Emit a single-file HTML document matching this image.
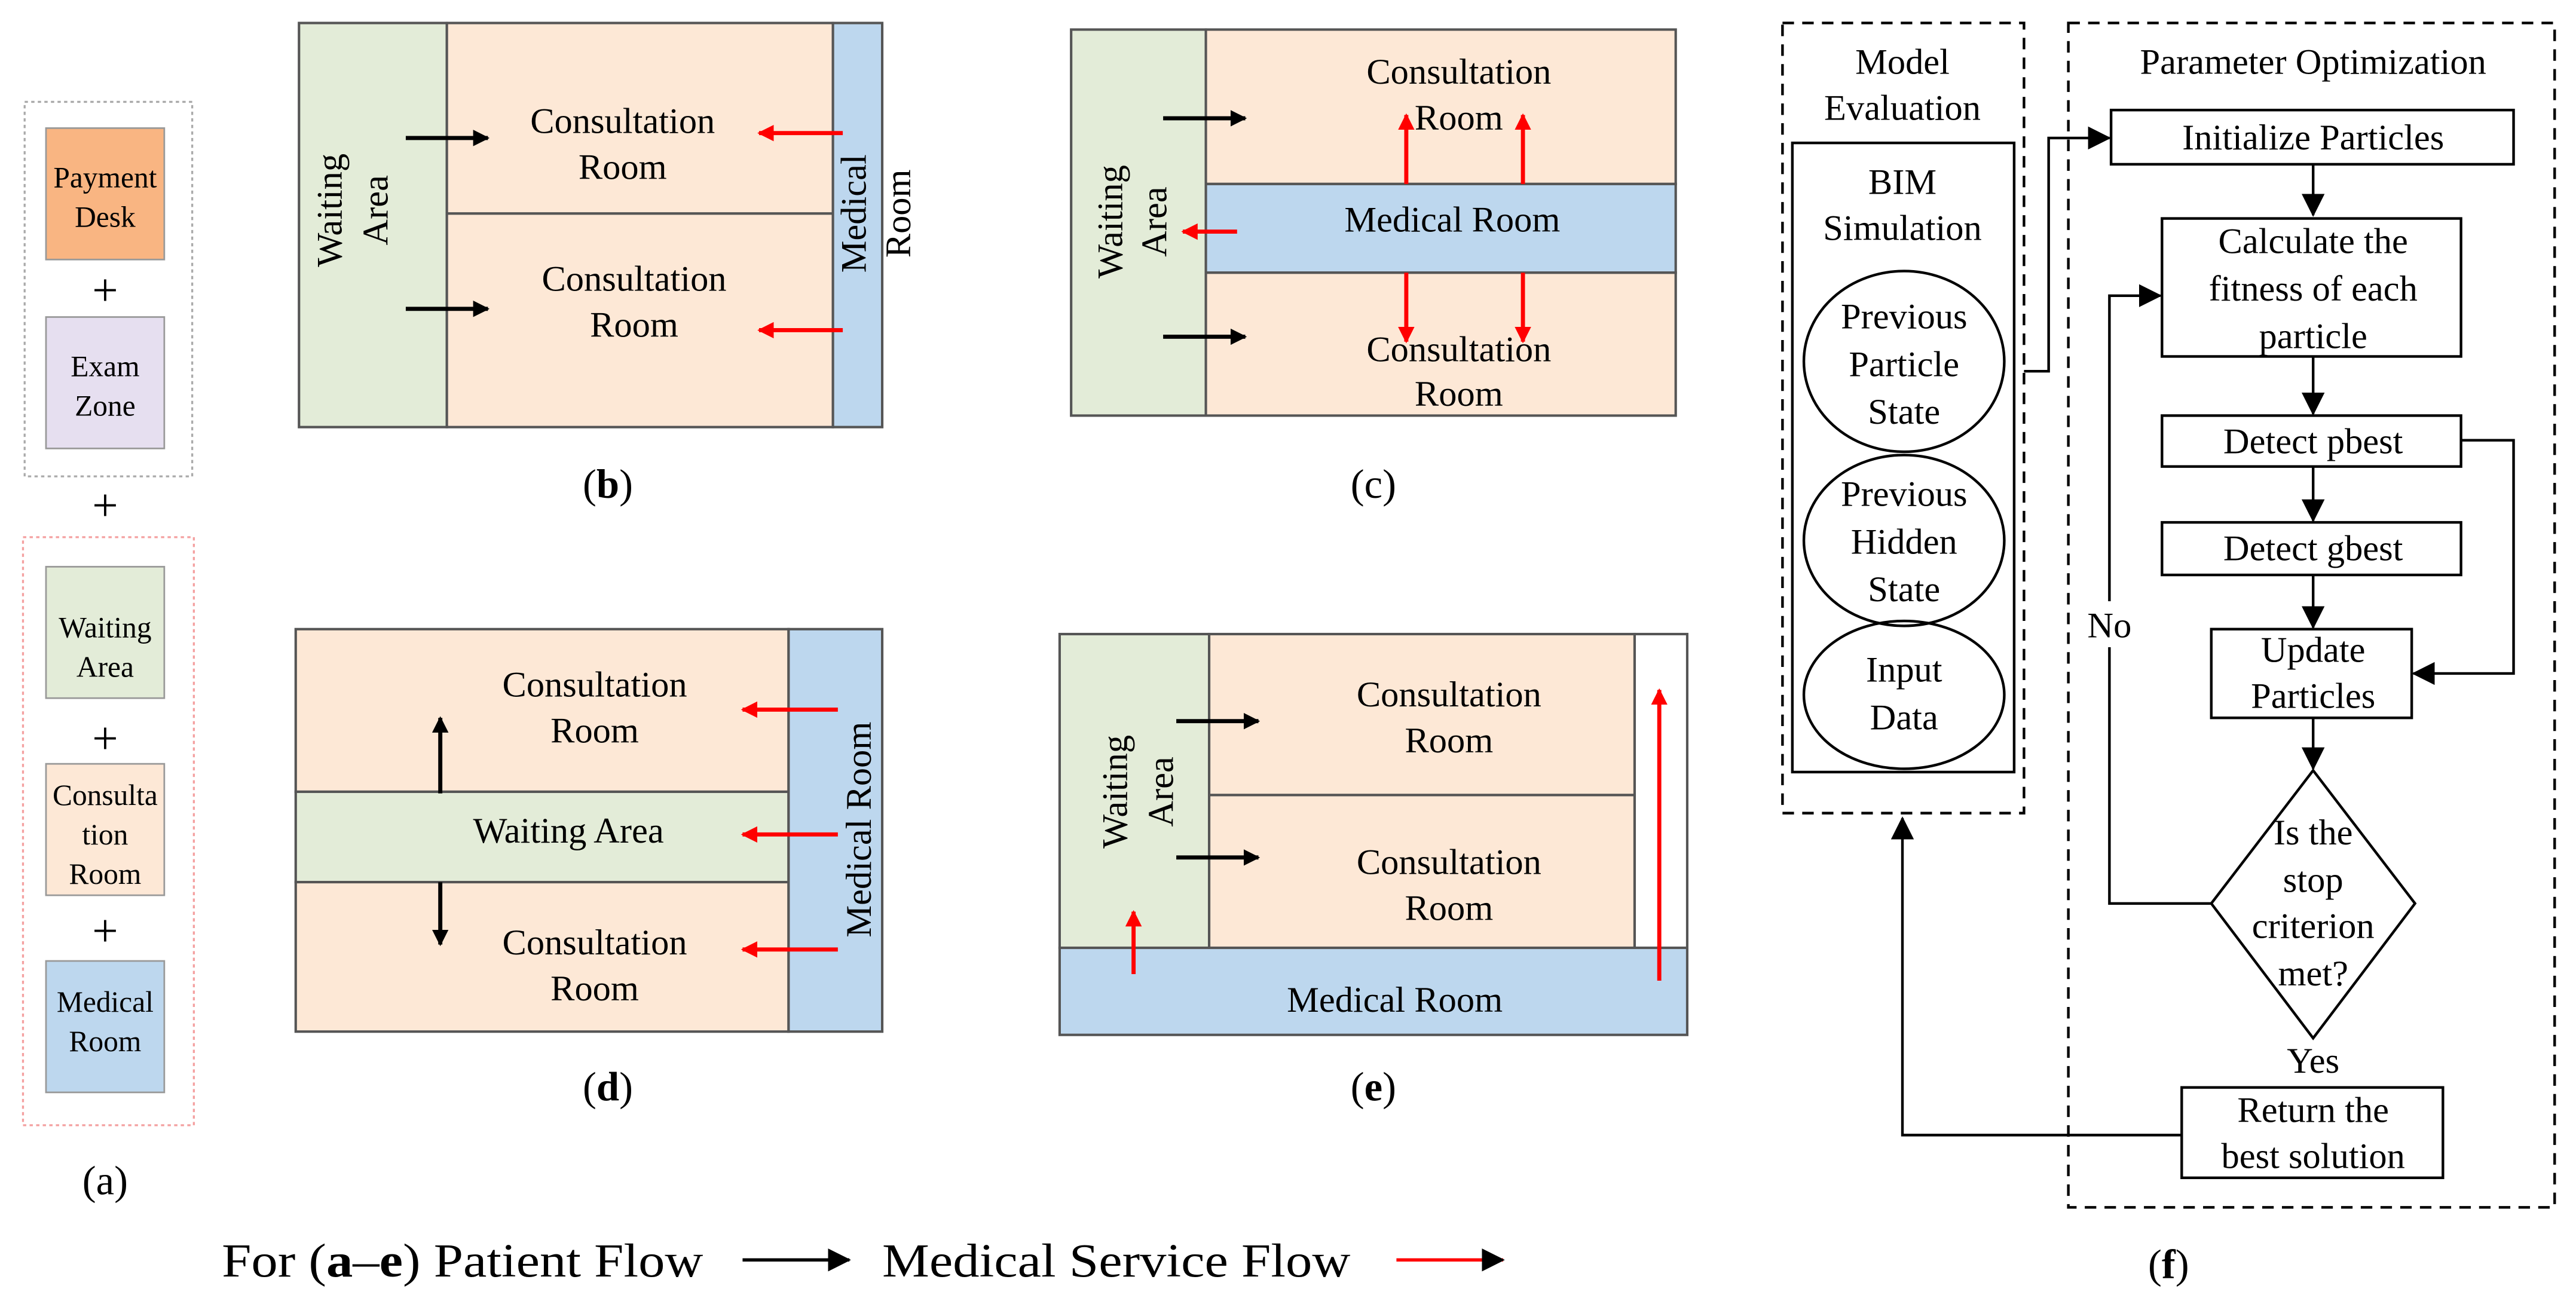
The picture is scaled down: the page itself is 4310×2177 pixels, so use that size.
<!DOCTYPE html>
<html><head><style>html,body{margin:0;padding:0;background:#fff}svg{display:block}text{font-family:"Liberation Serif","Times New Roman","DejaVu Serif",serif}</style></head>
<body>
<svg width="4310" height="2177" viewBox="0 0 1568 792" preserveAspectRatio="none" xmlns="http://www.w3.org/2000/svg" text-anchor="middle">
<defs>
<marker id="bk" markerWidth="10" markerHeight="10" refX="9" refY="5" orient="auto" markerUnits="userSpaceOnUse"><path d="M0,0 L10,5 L0,10 z" fill="#000"/></marker>
<marker id="rd" markerWidth="10" markerHeight="10" refX="9" refY="5" orient="auto" markerUnits="userSpaceOnUse"><path d="M0,0 L10,5 L0,10 z" fill="#f00"/></marker>
<marker id="fb" markerWidth="14" markerHeight="14" refX="13" refY="7" orient="auto" markerUnits="userSpaceOnUse"><path d="M0,0 L14,7 L0,14 z" fill="#000"/></marker>
</defs>
<rect x="15" y="62" width="102" height="228" fill="none" stroke="#aaa" stroke-width="1.2" stroke-dasharray="2,2"/>
<rect x="14" y="327" width="104" height="358" fill="none" stroke="#f4a0a0" stroke-width="1.2" stroke-dasharray="2,2"/>
<g stroke="#999" stroke-width="1">
<rect x="28" y="78" width="72" height="80" fill="#f9b582"/>
<rect x="28" y="193" width="72" height="80" fill="#e6dff0"/>
<rect x="28" y="345" width="72" height="80" fill="#e3ecd8"/>
<rect x="28" y="465" width="72" height="80" fill="#fde8d6"/>
<rect x="28" y="585" width="72" height="80" fill="#bdd7ee"/>
</g>
<g font-size="18">
<text x="64" y="114">Payment</text><text x="64" y="138">Desk</text>
<text x="64" y="229">Exam</text><text x="64" y="253">Zone</text>
<text x="64" y="388">Waiting</text><text x="64" y="412">Area</text>
<text x="64" y="490">Consulta</text><text x="64" y="514">tion</text><text x="64" y="538">Room</text>
<text x="64" y="616">Medical</text><text x="64" y="640">Room</text>
</g>
<g font-size="28"><text x="64" y="186">+</text><text x="64" y="317">+</text><text x="64" y="459">+</text><text x="64" y="576">+</text></g>
<text x="64" y="727" font-size="25">(a)</text>

<g stroke="#555" stroke-width="1.5">
<rect x="182" y="14" width="90" height="246" fill="#e3ecd8"/>
<rect x="272" y="14" width="235" height="116" fill="#fde8d6"/>
<rect x="272" y="130" width="235" height="130" fill="#fde8d6"/>
<rect x="507" y="14" width="30" height="246" fill="#bdd7ee"/>
<rect x="652" y="18" width="82" height="235" fill="#e3ecd8"/>
<rect x="734" y="18" width="286" height="94" fill="#fde8d6"/>
<rect x="734" y="112" width="286" height="54" fill="#bdd7ee"/>
<rect x="734" y="166" width="286" height="87" fill="#fde8d6"/>
<rect x="180" y="383" width="300" height="99" fill="#fde8d6"/>
<rect x="180" y="482" width="300" height="55" fill="#e3ecd8"/>
<rect x="180" y="537" width="300" height="91" fill="#fde8d6"/>
<rect x="480" y="383" width="57" height="245" fill="#bdd7ee"/>
<rect x="645" y="386" width="91" height="191" fill="#e3ecd8"/>
<rect x="736" y="386" width="259" height="98" fill="#fde8d6"/>
<rect x="736" y="484" width="259" height="93" fill="#fde8d6"/>
<rect x="995" y="386" width="32" height="191" fill="#fff"/>
<rect x="645" y="577" width="382" height="53" fill="#bdd7ee"/>
</g>
<g font-size="22">
<text x="379" y="81">Consultation</text><text x="379" y="109">Room</text>
<text x="386" y="177">Consultation</text><text x="386" y="205">Room</text>
<text transform="translate(208,128) rotate(-90)">Waiting</text><text transform="translate(236,128) rotate(-90)">Area</text>
<text transform="translate(527,130) rotate(-90)">Medical</text><text transform="translate(554,130) rotate(-90)">Room</text>
<text x="888" y="51">Consultation</text><text x="888" y="79">Room</text>
<text x="884" y="141">Medical Room</text>
<text x="888" y="220">Consultation</text><text x="888" y="247">Room</text>
<text transform="translate(683,135) rotate(-90)">Waiting</text><text transform="translate(710,135) rotate(-90)">Area</text>
<text x="362" y="424">Consultation</text><text x="362" y="452">Room</text>
<text x="346" y="513">Waiting Area</text>
<text x="362" y="581">Consultation</text><text x="362" y="609">Room</text>
<text transform="translate(530,505) rotate(-90)">Medical Room</text>
<text x="882" y="430">Consultation</text><text x="882" y="458">Room</text>
<text x="882" y="532">Consultation</text><text x="882" y="560">Room</text>
<text x="849" y="616">Medical Room</text>
<text transform="translate(686,482) rotate(-90)">Waiting</text><text transform="translate(714,482) rotate(-90)">Area</text>
<text x="370" y="303" font-size="25">(<tspan font-weight="bold">b</tspan>)</text>
<text x="836" y="303" font-size="25">(c)</text>
<text x="370" y="670" font-size="25">(<tspan font-weight="bold">d</tspan>)</text>
<text x="836" y="670" font-size="25">(<tspan font-weight="bold">e</tspan>)</text>
</g>
<g stroke="#000" stroke-width="2.5" marker-end="url(#bk)">
<line x1="247" y1="84" x2="297" y2="84"/><line x1="247" y1="188" x2="297" y2="188"/>
<line x1="708" y1="72" x2="758" y2="72"/><line x1="708" y1="205" x2="758" y2="205"/>
<line x1="268" y1="483" x2="268" y2="437"/><line x1="268" y1="537" x2="268" y2="575"/>
<line x1="716" y1="439" x2="766" y2="439"/><line x1="716" y1="522" x2="766" y2="522"/>
</g>
<g stroke="#f00" stroke-width="2.5" marker-end="url(#rd)">
<line x1="513" y1="81" x2="462" y2="81"/><line x1="513" y1="201" x2="462" y2="201"/>
<line x1="856" y1="112" x2="856" y2="70"/><line x1="927" y1="112" x2="927" y2="70"/>
<line x1="856" y1="166" x2="856" y2="208"/><line x1="927" y1="166" x2="927" y2="208"/>
<line x1="753" y1="141" x2="720" y2="141"/>
<line x1="510" y1="432" x2="452" y2="432"/><line x1="510" y1="508" x2="452" y2="508"/><line x1="510" y1="578" x2="452" y2="578"/>
<line x1="690" y1="593" x2="690" y2="555"/><line x1="1010" y1="597" x2="1010" y2="420"/>
</g>
<text x="135" y="777" font-size="29" text-anchor="start" textLength="293" lengthAdjust="spacingAndGlyphs">For (<tspan font-weight="bold">a</tspan>–<tspan font-weight="bold">e</tspan>) Patient Flow</text>
<line x1="452" y1="767" x2="517" y2="767" stroke="#000" stroke-width="2" marker-end="url(#fb)"/>
<text x="537" y="777" font-size="29" text-anchor="start" textLength="285" lengthAdjust="spacingAndGlyphs">Medical Service Flow</text>
<line x1="850" y1="767" x2="915" y2="767" stroke="#f00" stroke-width="2" marker-end="url(#fb)"/>

<g fill="none" stroke="#000" stroke-width="1.6">
<rect x="1085" y="14" width="147" height="481" stroke-dasharray="7,5"/>
<rect x="1259" y="14" width="296" height="721" stroke-dasharray="7,5"/>
<rect x="1091" y="87" width="135" height="383"/>
<ellipse cx="1159" cy="220" rx="61" ry="55"/>
<ellipse cx="1159" cy="329" rx="61" ry="52"/>
<ellipse cx="1159" cy="423" rx="61" ry="45"/>
<rect x="1285" y="67" width="245" height="33"/>
<rect x="1316" y="133" width="182" height="84"/>
<rect x="1316" y="253" width="182" height="31"/>
<rect x="1316" y="318" width="182" height="32"/>
<rect x="1346" y="383" width="122" height="54"/>
<polygon points="1408,469 1470,550 1408,632 1346,550"/>
<rect x="1328" y="662" width="159" height="55"/>
</g>
<g fill="none" stroke="#000" stroke-width="1.6" marker-end="url(#fb)">
<line x1="1408" y1="100" x2="1408" y2="131"/>
<line x1="1408" y1="217" x2="1408" y2="252"/>
<line x1="1408" y1="284" x2="1408" y2="317"/>
<line x1="1408" y1="350" x2="1408" y2="382"/>
<line x1="1408" y1="437" x2="1408" y2="468"/>
<polyline points="1346,550 1284,550 1284,180 1315,180"/>
<polyline points="1498,268 1530,268 1530,410 1469,410"/>
<polyline points="1328,691 1158,691 1158,498"/>
<polyline points="1232,226 1247,226 1247,84 1284,84"/>
</g>
<rect x="1268" y="366" width="34" height="28" fill="#fff"/>
<g font-size="22">
<text x="1158" y="45">Model</text><text x="1158" y="73">Evaluation</text>
<text x="1408" y="45">Parameter Optimization</text>
<text x="1158" y="118">BIM</text><text x="1158" y="146">Simulation</text>
<text x="1159" y="200">Previous</text><text x="1159" y="229">Particle</text><text x="1159" y="258">State</text>
<text x="1159" y="308">Previous</text><text x="1159" y="337">Hidden</text><text x="1159" y="366">State</text>
<text x="1159" y="415">Input</text><text x="1159" y="444">Data</text>
<text x="1408" y="91">Initialize Particles</text>
<text x="1408" y="154">Calculate the</text><text x="1408" y="183">fitness of each</text><text x="1408" y="212">particle</text>
<text x="1408" y="276">Detect pbest</text>
<text x="1408" y="341">Detect gbest</text>
<text x="1408" y="403">Update</text><text x="1408" y="431">Particles</text>
<text x="1408" y="514">Is the</text><text x="1408" y="543">stop</text><text x="1408" y="571">criterion</text><text x="1408" y="600">met?</text>
<text x="1284" y="388">No</text>
<text x="1408" y="653">Yes</text>
<text x="1408" y="683">Return the</text><text x="1408" y="711">best solution</text>
<text x="1320" y="778" font-size="25">(<tspan font-weight="bold">f</tspan>)</text>
</g>
</svg>
</body></html>
